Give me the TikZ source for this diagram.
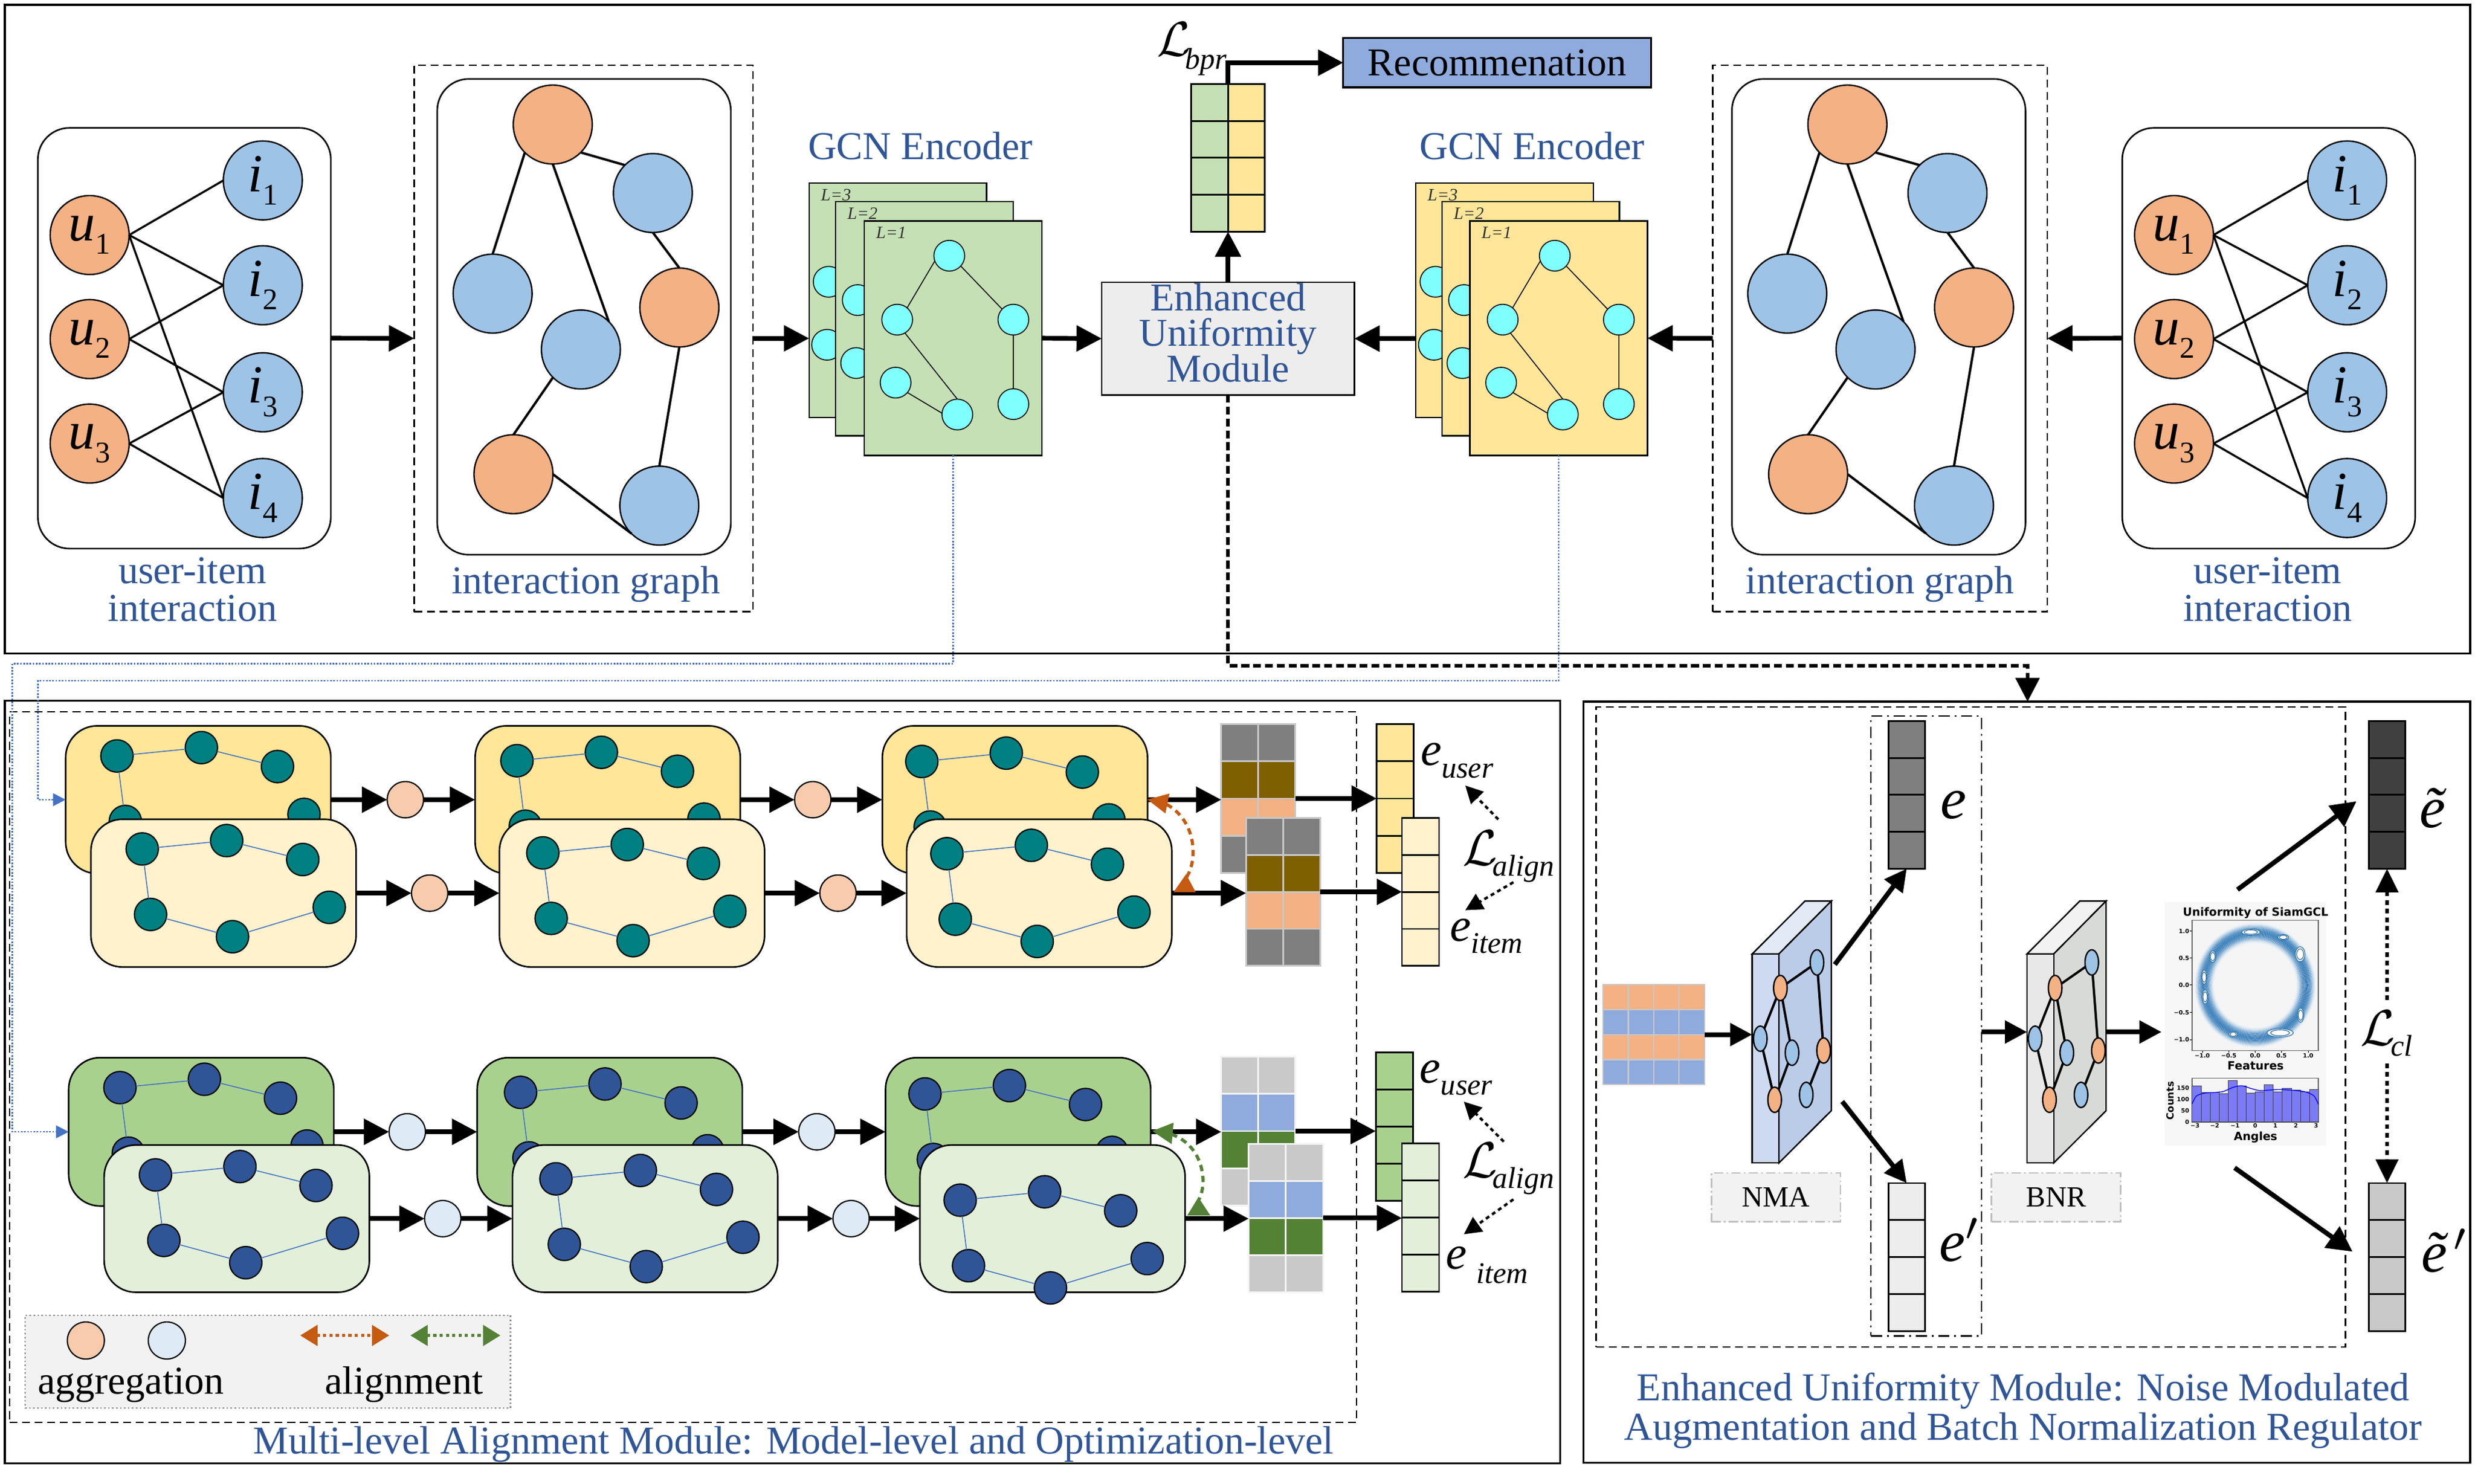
\documentclass[tikz,border=0pt]{standalone}
\usepackage{graphicx}
\usepackage{fontspec}
\setmainfont{Liberation Serif}
\newfontfamily\plotfont{DejaVu Sans}
\usetikzlibrary{arrows.meta,shapes.geometric}

\definecolor{txtblue}{HTML}{2F5597}
\definecolor{uorange}{HTML}{F4B183}
\definecolor{iblue}{HTML}{9DC3E6}
\definecolor{gcngreen}{HTML}{C5E0B4}
\definecolor{gcnyellow}{HTML}{FFE699}
\definecolor{cyannode}{HTML}{80FFFF}
\definecolor{eumgray}{HTML}{EDEDED}
\definecolor{recblue}{HTML}{8FAADC}
\definecolor{ydark}{HTML}{FFE699}
\definecolor{ylight}{HTML}{FFF2CC}
\definecolor{gdark}{HTML}{A9D18E}
\definecolor{glight}{HTML}{E2F0D9}
\definecolor{tealnode}{HTML}{008080}
\definecolor{navynode}{HTML}{2F5597}
\definecolor{edgeblue}{HTML}{4472C4}
\definecolor{aggpeach}{HTML}{F8CBAD}
\definecolor{agglblue}{HTML}{DEEBF7}
\definecolor{cgray}{HTML}{7F7F7F}
\definecolor{colive}{HTML}{7F6000}
\definecolor{cpeach}{HTML}{F4B183}
\definecolor{clgray}{HTML}{C9C9C9}
\definecolor{cblue}{HTML}{8FAADC}
\definecolor{cgreen}{HTML}{548235}
\definecolor{alorange}{HTML}{C55A11}
\definecolor{algreen}{HTML}{538135}
\definecolor{gridgray}{HTML}{C8C8C8}
\definecolor{gridwhite}{HTML}{F4F4F4}
\definecolor{dgray}{HTML}{404040}
\definecolor{nmafront}{HTML}{CDDAF1}
\definecolor{nmaside}{HTML}{BBCCE8}
\definecolor{nmatop}{HTML}{E2EAF6}
\definecolor{bnrfront}{HTML}{E7E8E7}
\definecolor{bnrside}{HTML}{D8DAD8}
\definecolor{bnrtop}{HTML}{F1F2F1}
\definecolor{ringblue}{HTML}{2A75B5}
\definecolor{barblue}{HTML}{7B7BF5}
\definecolor{plotbgc}{HTML}{F7F7F7}

\newcommand\calL[1]{{\fontsize{10}{10}\selectfont\scalebox{#1}{$\mathcal{L}$}}}
\newcommand\bigprime[1]{{\fontsize{10}{10}\selectfont\scalebox{#1}{$'$}}}
\newcommand\usub[2]{\textit{#1}\raisebox{-0.55ex}{\fontsize{19}{19}\selectfont #2}}
\newcommand\elab[3]{{\fontsize{30}{30}\selectfont\textit{e}}#3\raisebox{-#2}{\fontsize{19}{19}\selectfont\textit{#1}}}
\newcommand\Llab[2]{\calL{3.2}\hspace{-3pt}\raisebox{-#2}{\fontsize{19}{19}\selectfont\textit{#1}}}

% user-item bipartite graph
\newcommand\uigraph[3]{%
  \node[uibox, minimum width=185.6pt, minimum height=266.5pt, anchor=north west] (#1box) at (#2,#3) {};
  \begin{scope}[shift={(#2,#3)}]
    \node[unode] (#1u1) at (32.8,67.9) {\usub{u}{1}};
    \node[unode] (#1u2) at (32.8,133.8) {\usub{u}{2}};
    \node[unode] (#1u3) at (32.8,200) {\usub{u}{3}};
    \node[inode] (#1i1) at (142.5,33.3) {\usub{i}{1}};
    \node[inode] (#1i2) at (142.5,99.7) {\usub{i}{2}};
    \node[inode] (#1i3) at (142.5,167.5) {\usub{i}{3}};
    \node[inode] (#1i4) at (142.5,234.5) {\usub{i}{4}};
  \end{scope}
  \draw[uedge] (#1u1.east) -- (#1i1.west) (#1u1.east) -- (#1i2.west) (#1u1.east) -- (#1i4.west)
    (#1u2.east) -- (#1i2.west) (#1u2.east) -- (#1i3.west)
    (#1u3.east) -- (#1i3.west) (#1u3.east) -- (#1i4.west);
}
% interaction graph
\newcommand\igraph[3]{%
  \node[uibox, minimum width=186pt, minimum height=301.4pt, anchor=north west] (#1box) at (#2,#3) {};
  \begin{scope}[shift={(#2,#3)}]
    \node[onode] (#1o1) at (73.2,28.9) {};
    \node[bnodeb] (#1b1) at (136.6,72.3) {};
    \node[bnodeb] (#1b2) at (35.1,136) {};
    \node[onode] (#1o2) at (153.4,144.8) {};
    \node[bnodeb] (#1b3) at (91,171.4) {};
    \node[onode] (#1o3) at (48.3,250.4) {};
    \node[bnodeb] (#1b4) at (140.7,270.3) {};
  \end{scope}
  \draw[gedge] (#1o1.315) -- (#1b1.135) (#1o1.225) -- (#1b2.90) (#1o1.270) -- (#1b3.45)
    (#1b1.270) -- (#1o2.90) (#1o2.270) -- (#1b4.90) (#1b3.225) -- (#1o3.90) (#1o3.0) -- (#1b4.225);
}
% GCN page
\newcommand\gcnpage[6]{%
  \node[pagebox, fill=#4] (#1) at ({#2+56.25},{#3+74.25}) {};
  \node[font=\fontsize{11}{11}\selectfont\itshape, text=black!80] (#1t) at ({#2+17},{#3+7.5}) {L=#5};
  \begin{scope}[shift={({#2+#6},#3)}]
    \node[cnode] (#1a) at (53.8,22) {};
    \node[cnode] (#1b) at (20.8,62.5) {};
    \node[cnode] (#1c) at (94.4,62.5) {};
    \node[cnode] (#1d) at (19.8,102.4) {};
    \node[cnode] (#1e) at (58.9,122.6) {};
    \node[cnode] (#1f) at (94.4,116) {};
  \end{scope}
  \draw[cedge] (#1a.200) -- (#1b.50) (#1a.318) -- (#1c.137) (#1b.300) -- (#1e.90)
    (#1d.320) -- (#1e.175) (#1c.south) -- (#1f.north);
}
% small graph in alignment module
\newcommand\bgraph[4]{%
  \begin{scope}[shift={(#2,#3)}]
    \node[smnode, fill=#4] (#1a) at (32.5,19) {};
    \node[smnode, fill=#4] (#1b) at (86,13.7) {};
    \node[smnode, fill=#4] (#1c) at (134.2,25.7) {};
    \node[smnode, fill=#4] (#1d) at (37.8,60.5) {};
    \node[smnode, fill=#4] (#1e) at (89.7,74.6) {};
    \node[smnode, fill=#4] (#1f) at (151,56) {};
  \end{scope}
  \draw[bedge] (#1a) -- (#1b) (#1b) -- (#1c) (#1a) -- (#1d) (#1d) -- (#1e) (#1e) -- (#1f);
}
\newcommand\twocol[6]{%
  \foreach \cc [count=\rr from 0] in {#6} {%
    \foreach \kk in {0,1} {%
      \filldraw[fill=\cc, draw=#5, line width=1.1pt] ({#1+\kk*#3},{#2+\rr*#4}) rectangle ++(#3,#4);
    }%
  }%
}
\newcommand\onecol[5]{%
  \foreach \rr in {0,1,2,3} {%
    \filldraw[fill=#5, draw=black, line width=1.1pt] (#1,{#2+\rr*#4}) rectangle ++(#3,#4);
  }%
}
\newcommand\slab[5]{%
  \filldraw[fill=#5, draw=black, line width=0.9pt] (#2,604.3) -- ({#2+16.9},604.3) -- ({#2+50.1},570.8) -- ({#2+33.4},570.8) -- cycle;
  \filldraw[fill=#4, draw=black, line width=0.9pt] ({#2+16.9},604.3) -- ({#2+50.1},570.8) -- ({#2+50.1},703.6) -- ({#2+16.9},736.7) -- cycle;
  \filldraw[fill=#3, draw=black, line width=0.9pt] (#2,604.3) rectangle ({#2+16.9},736.7);
  \node[minimum width=50.1pt, minimum height=165.9pt] (#1) at ({#2+25.05},653.75) {};
  \begin{scope}[shift={(#2,0)}]
    \node[snode, fill=uorange] (#1o1) at (17.8,625.9) {};
    \node[snode, fill=iblue] (#1b1) at (41,609.7) {};
    \node[snode, fill=iblue] (#1b2) at (5.1,658) {};
    \node[snode, fill=iblue] (#1b3) at (25.2,666.9) {};
    \node[snode, fill=uorange] (#1o2) at (45.2,665.5) {};
    \node[snode, fill=uorange] (#1o3) at (14.2,696.7) {};
    \node[snode, fill=iblue] (#1b4) at (34.2,693.6) {};
  \end{scope}
  \draw[sedge] (#1o1) -- (#1b1) (#1o1) -- (#1b2) (#1o1) -- (#1b3) (#1b2) -- (#1o3)
    (#1b3) -- (#1o3) (#1b1) -- (#1o2) (#1o2) -- (#1b4);
}

\begin{document}
\begin{tikzpicture}[x=1pt,y=-1pt,
  every node/.style={inner sep=0pt, outer sep=0pt},
  panel/.style={draw=black, line width=1.3pt},
  dashbox/.style={draw=black, line width=0.9pt, dash pattern=on 5pt off 3pt},
  ddbox/.style={draw=black, line width=0.8pt, dash pattern=on 7pt off 3pt on 1.2pt off 3pt},
  uibox/.style={draw=black, line width=1pt, rounded corners=20pt, fill=white},
  unode/.style={circle, draw=black, line width=0.9pt, fill=uorange, minimum size=50pt, font=\fontsize{34}{34}\selectfont},
  inode/.style={unode, fill=iblue},
  onode/.style={circle, draw=black, line width=0.9pt, fill=uorange, minimum size=50pt},
  bnodeb/.style={onode, fill=iblue},
  uedge/.style={line width=1.3pt},
  gedge/.style={line width=1.5pt},
  bigarr/.style={line width=3pt, -{Triangle[length=16pt,width=16pt]}},
  midarr/.style={line width=3pt, -{Triangle[length=14pt,width=14pt]}},
  pagebox/.style={draw=black, line width=0.9pt, minimum width=112.5pt, minimum height=148.5pt},
  cnode/.style={circle, draw=black, line width=0.6pt, fill=cyannode, minimum size=19.5pt},
  cedge/.style={line width=0.6pt},
  smnode/.style={circle, draw=black, line width=0.8pt, minimum size=20.5pt},
  bedge/.style={draw=edgeblue, line width=0.6pt},
  ybox/.style={draw=black, line width=1pt, rounded corners=20pt, minimum width=168pt, minimum height=93.6pt},
  aggc/.style={circle, draw=black, line width=0.8pt, minimum size=23pt},
  snode/.style={ellipse, draw=black, line width=0.9pt, minimum width=8.6pt, minimum height=16pt},
  sedge/.style={line width=1.5pt},
  bluetxt/.style={text=txtblue, font=\fontsize{25}{30}\selectfont},
  blktxt/.style={text=black, font=\fontsize{25}{30}\selectfont},
  bluedot/.style={draw=edgeblue, line width=0.9pt, dash pattern=on 1pt off 1pt, -{Triangle[length=8pt,width=8pt]}},
  maindash/.style={line width=2.2pt, dash pattern=on 5pt off 2.5pt, -{Triangle[length=15pt,width=15pt]}},
  aldot/.style={line width=1.6pt, dash pattern=on 2.5pt off 2.2pt, -{Triangle[length=11pt,width=11pt]}},
  legarr/.style={line width=2pt, dash pattern=on 2pt off 2pt, {Triangle[length=11pt,width=13pt]}-{Triangle[length=11pt,width=13pt]}},
  cldash/.style={line width=2.5pt, dash pattern=on 3pt off 2.5pt, -{Triangle[length=15pt,width=14pt]}},
  lblbox/.style={draw=black!25, line width=1pt, dash pattern=on 6pt off 2pt on 1pt off 2pt, fill=black!5, minimum width=81.8pt, minimum height=31pt, font=\fontsize{18.5}{20}\selectfont},
  tick/.style={font=\plotfont\bfseries\fontsize{3.7}{4}\selectfont},
  plotlbl/.style={font=\plotfont\bfseries\fontsize{7.2}{8}\selectfont},
  bar/.style={fill=barblue, draw=black!75, line width=0.3pt}
]
\useasboundingbox (0,0) rectangle (1568,940.1);
\fill[white] (0,0) rectangle (1568,940.1);

%================ panels
\node[panel, minimum width=1562pt, minimum height=411pt] (tp) at (784,208.5) {};
\node[panel, minimum width=985.5pt, minimum height=483pt] (lp) at (495.75,685.5) {};
\node[panel, minimum width=561.8pt, minimum height=482.2pt] (rp) at (1284.1,685.6) {};

%================ top panel
\uigraph{L}{24}{81}
\uigraph{R}{1344.5}{81}
\node[dashbox, minimum width=214.6pt, minimum height=346.3pt] (ig1) at (369.7,214.35) {};
\node[dashbox, minimum width=211.9pt, minimum height=346.3pt] (ig2) at (1191.05,214.35) {};
\igraph{A}{277}{50}
\igraph{B}{1097.2}{50}

\gcnpage{gL3}{512.6}{116}{gcngreen}{3}{-8.4}
\gcnpage{gL2}{529.4}{127.6}{gcngreen}{2}{-6.8}
\gcnpage{gL1}{547.6}{140}{gcngreen}{1}{0}
\gcnpage{yL3}{897}{116}{gcnyellow}{3}{-8.4}
\gcnpage{yL2}{913.5}{127.6}{gcnyellow}{2}{-6.8}
\gcnpage{yL1}{931.2}{140}{gcnyellow}{1}{0}

\node[bluetxt, anchor=base] (tL1) at (122,369.5) {user-item};
\node[bluetxt, anchor=base] (tL2) at (122,393.4) {interaction};
\node[bluetxt, anchor=base] (tA) at (371.2,376) {interaction graph};
\node[bluetxt, anchor=base] (tG1) at (583.1,101) {GCN Encoder};
\node[bluetxt, anchor=base] (tG2) at (970.6,101) {GCN Encoder};
\node[bluetxt, anchor=base] (tB) at (1191.1,376) {interaction graph};
\node[bluetxt, anchor=base] (tR1) at (1436.6,369.5) {user-item};
\node[bluetxt, anchor=base] (tR2) at (1436.6,393.4) {interaction};

\node[draw=black, line width=1pt, fill=eumgray, minimum width=160pt, minimum height=71.4pt] (eum) at (778,214.5) {};
\node[bluetxt, anchor=base] (eum1) at (778,196.7) {Enhanced};
\node[bluetxt, anchor=base] (eum2) at (778,219.3) {Uniformity};
\node[bluetxt, anchor=base] (eum3) at (778,241.9) {Module};

\onecol{754.6}{53.2}{23.4}{23.375}{gcngreen}
\onecol{778}{53.2}{23.4}{23.375}{gcnyellow}
\node[minimum width=46.8pt, minimum height=93.5pt] (tv) at (778,99.95) {};
\node[draw=black, line width=1.2pt, fill=recblue, minimum width=195pt, minimum height=31.3pt, font=\fontsize{25}{30}\selectfont] (rec) at (948.5,39.7) {Recommenation};
\node[anchor=base west] (lbpr) at (733,35.5) {\calL{3.1}\hspace{-3.5pt}\raisebox{-8.4pt}{\fontsize{19}{19}\selectfont\textit{bpr}}};

\draw[bigarr] (Lbox.east) -- (ig1.west);
\draw[bigarr] (ig1.east) -- (ig1.east -| gL3.west);
\draw[bigarr] (gL1.east) -- (eum.west);
\draw[bigarr] (eum.east -| yL3.west) -- (eum.east);
\draw[bigarr] (ig2.west) -- (yL1.east);
\draw[bigarr] (Rbox.west) -- (ig2.east);
\draw[bigarr] (eum.north) -- (tv.south);
\draw[bigarr] (tv.north) |- (rec.west);

%================ connectors between panels
\coordinate (gturn) at (7.8,420.4);
\coordinate (yturn) at (24.1,431.2);
\coordinate (dturn) at (1284.5,421.8);

%================ bottom-left panel
\node[dashbox, minimum width=853.5pt, minimum height=450pt] (ldash) at (432.75,676) {};

% yellow rows
\node[ybox, fill=ydark] (yb1) at (125.6,506.6) {};
\bgraph{yg1}{41.6}{459.9}{tealnode}
\node[ybox, fill=ydark] (yb2) at (385,506.6) {};
\bgraph{yg2}{295}{462.9}{tealnode}
\node[ybox, fill=ydark] (yb3) at (643,506.6) {};
\bgraph{yg3}{551.5}{463.4}{tealnode}
\node[ybox, fill=ylight] (yf1) at (141.6,565.8) {};
\bgraph{yh1}{57.6}{518.8}{tealnode}
\node[ybox, fill=ylight] (yf2) at (400.4,565.8) {};
\bgraph{yh2}{311.4}{521.3}{tealnode}
\node[ybox, fill=ylight] (yf3) at (658.4,565.8) {};
\bgraph{yh3}{567.4}{521.8}{tealnode}

\node[aggc, fill=aggpeach] (ya1) at (256.8,506.6) {};
\node[aggc, fill=aggpeach] (ya2) at (514.9,506.6) {};
\node[aggc, fill=aggpeach] (ya3) at (272.2,565.8) {};
\node[aggc, fill=aggpeach] (ya4) at (530.9,565.8) {};
\draw[bigarr] (yb1.east) -- (ya1.west);
\draw[bigarr] (ya1.east) -- (yb2.west);
\draw[bigarr] (yb2.east) -- (ya2.west);
\draw[bigarr] (ya2.east) -- (yb3.west);
\draw[bigarr] (yf1.east) -- (ya3.west);
\draw[bigarr] (ya3.east) -- (yf2.west);
\draw[bigarr] (yf2.east) -- (ya4.west);
\draw[bigarr] (ya4.east) -- (yf3.west);

\twocol{773.7}{458.8}{23.5}{23.525}{gridgray}{cgray,colive,cpeach,cgray}
\node[minimum width=47pt, minimum height=94.1pt] (yv1) at (797.2,505.85) {};
\twocol{789.4}{518.1}{23.5}{23.45}{gridgray}{cgray,colive,cpeach,cgray}
\node[minimum width=47pt, minimum height=93.8pt] (yv2) at (812.9,565) {};
\onecol{872.2}{458.8}{23.5}{23.525}{ydark}
\node[minimum width=23.5pt, minimum height=94.1pt] (yeu) at (883.95,505.85) {};
\onecol{888.2}{518.1}{23.5}{23.45}{ylight}
\node[minimum width=23.5pt, minimum height=93.8pt] (yei) at (899.95,565) {};

\draw[bigarr] (yb3.east) -- (yb3.east -| yv1.west);
\draw[bigarr] (yf3.east) -- (yf3.east -| yv2.west);
\draw[bigarr] (yv1.east) -- (yeu.west);
\draw[bigarr] (yv2.east) -- (yei.west);

\node[anchor=base west] (yeul) at (900,485) {\elab{user}{7.6pt}{}};
\node[anchor=base west] (yal) at (926.6,548.1) {\Llab{align}{7pt}};
\node[anchor=base west] (yeil) at (918.7,596.1) {\elab{item}{7.6pt}{}};
\coordinate (yal1) at (949.2,519.1); \coordinate (yal1e) at (928.3,497.6);
\coordinate (yal2) at (958.8,558.9); \coordinate (yal2e) at (928.3,576.6);
\draw[aldot] (yal1) -- (yal1e);
\draw[aldot] (yal2) -- (yal2e);

% orange alignment arrow
\fill[alorange] (727,506.5) -- (740.9,502.7) -- (738.3,515.3) -- cycle;
\draw[alorange, line width=2pt, dash pattern=on 4pt off 3pt] (739,509.5) .. controls (758,520) and (759,545) .. (751.5,556);
\fill[alorange] (743.5,565.2) -- (757.5,565.2) -- (751.4,553.8) -- cycle;

% green rows
\node[ybox, fill=gdark, minimum height=94pt] (gb1) at (127.5,717) {};
\bgraph{gg1}{43.5}{670}{navynode}
\node[ybox, fill=gdark, minimum height=94pt] (gb2) at (386.3,717) {};
\bgraph{gg2}{297.3}{673}{navynode}
\node[ybox, fill=gdark, minimum height=94pt] (gb3) at (645,717) {};
\bgraph{gg3}{553.5}{674}{navynode}
\node[ybox, fill=glight, minimum height=93.3pt] (gf1) at (150,772) {};
\bgraph{gh1}{66}{725.3}{navynode}
\node[ybox, fill=glight, minimum height=93.3pt] (gf2) at (408.7,772) {};
\bgraph{gh2}{319.7}{727.8}{navynode}
\node[ybox, fill=glight, minimum height=93.3pt] (gf3) at (666.8,772) {};
\bgraph{gh3}{575.8}{741.3}{navynode}

\node[aggc, fill=agglblue] (ga1) at (258,717) {};
\node[aggc, fill=agglblue] (ga2) at (517.5,717) {};
\node[aggc, fill=agglblue] (ga3) at (280.5,772) {};
\node[aggc, fill=agglblue] (ga4) at (539.2,772) {};
\draw[bigarr] (gb1.east) -- (ga1.west);
\draw[bigarr] (ga1.east) -- (gb2.west);
\draw[bigarr] (gb2.east) -- (ga2.west);
\draw[bigarr] (ga2.east) -- (gb3.west);
\draw[bigarr] (gf1.east) -- (ga3.west);
\draw[bigarr] (ga3.east) -- (gf2.west);
\draw[bigarr] (gf2.east) -- (ga4.west);
\draw[bigarr] (ga4.east) -- (gf3.west);

\twocol{773.7}{669.5}{23.5}{23.525}{gridwhite}{clgray,cblue,cgreen,clgray}
\node[minimum width=47pt, minimum height=94.1pt] (gv1) at (797.2,716.55) {};
\twocol{791.1}{724.8}{23.55}{23.425}{gridwhite}{clgray,cblue,cgreen,clgray}
\node[minimum width=47.1pt, minimum height=93.7pt] (gv2) at (814.65,771.65) {};
\onecol{871.6}{666.6}{23.6}{23.525}{gdark}
\node[minimum width=23.6pt, minimum height=94.1pt] (geu) at (883.4,713.65) {};
\onecol{888.2}{724.2}{23.5}{23.525}{glight}
\node[minimum width=23.5pt, minimum height=94.1pt] (gei) at (899.95,771.25) {};

\draw[bigarr] (gb3.east) -- (gb3.east -| gv1.west);
\draw[bigarr] (gf3.east) -- (gf3.east -| gv2.west);
\draw[bigarr] (gv1.east) -- (gv1.east -| geu.west);
\draw[bigarr] (gv2.east) -- (gv2.east -| gei.west);

\node[anchor=base west] (geul) at (899.5,685.9) {\elab{user}{7.6pt}{}};
\node[anchor=base west] (gal) at (926.6,745.9) {\Llab{align}{7pt}};
\node[anchor=base west] (geil) at (916.1,804) {\elab{item}{8.8pt}{\hspace{6pt}}};
\coordinate (gal1) at (952.7,723.2); \coordinate (gal1e) at (927.4,697.9);
\coordinate (gal2) at (958.8,759.8); \coordinate (gal2e) at (927.4,781.9);
\draw[aldot] (gal1) -- (gal1e);
\draw[aldot] (gal2) -- (gal2e);

% green alignment arrow
\fill[algreen] (730,716.5) -- (743.5,711.2) -- (742.3,724.8) -- cycle;
\draw[algreen, line width=2pt, dash pattern=on 4pt off 3pt] (742,718.5) .. controls (763,726) and (765,750) .. (759.5,760);
\fill[algreen] (752.2,769.9) -- (766.7,769.9) -- (759.2,758.5) -- cycle;

% legend
\node[draw=black!45, line width=0.8pt, dash pattern=on 1pt off 1.5pt, fill=black!5, minimum width=307.4pt, minimum height=58.9pt] (leg) at (169.7,862.55) {};
\node[aggc, fill=aggpeach, minimum size=23.5pt] (legc1) at (54.4,849.2) {};
\node[aggc, fill=agglblue, minimum size=23.5pt] (legc2) at (105.7,849.2) {};
\coordinate (lo1) at (190.2,846); \coordinate (lo2) at (246.6,846);
\coordinate (lg1) at (260,846); \coordinate (lg2) at (317,846);
\draw[legarr, alorange] (lo1) -- (lo2);
\draw[legarr, algreen] (lg1) -- (lg2);
\node[blktxt, anchor=base] (legt1) at (83,883) {aggregation};
\node[blktxt, anchor=base] (legt2) at (256,883) {alignment};

\node[bluetxt, anchor=base] (capL) at (502.7,921) {Multi-level Alignment Module: Model-level and Optimization-level};

% blue dotted feeds
\draw[bluedot] (gL1.south) |- (gturn) |- (gb1.west);
\draw[bluedot] (yL1.south) |- (yturn) |- (yb1.west);
% main dashed feed
\draw[maindash] (eum.south) |- (dturn) -- (dturn |- rp.north);

%================ bottom-right panel
\node[dashbox, minimum width=474.8pt, minimum height=405.5pt] (rdash) at (1248.6,650.55) {};
\node[ddbox, minimum width=69.9pt, minimum height=392.8pt] (ddr) at (1220.35,649.9) {};

\foreach \cc [count=\rr from 0] in {uorange,cblue,uorange,cblue} {
  \foreach \kk in {0,1,2,3} {
    \filldraw[fill=\cc, draw=gridgray, line width=0.8pt] ({1015.5+\kk*16.1},{623.7+\rr*15.85}) rectangle ++(16.1,15.85);
  }
}
\node[minimum width=64.4pt, minimum height=63.4pt] (inmat) at (1047.7,655.4) {};

\slab{nma}{1110.1}{nmafront}{nmaside}{nmatop}
\slab{bnr}{1284.2}{bnrfront}{bnrside}{bnrtop}
\node[lblbox] (nmal) at (1125.1,758.5) {NMA};
\node[lblbox] (bnrl) at (1302.6,758.5) {BNR};

\onecol{1196.3}{456.8}{23.3}{23.375}{cgray}
\node[minimum width=23.3pt, minimum height=93.5pt] (ev) at (1207.95,503.55) {};
\onecol{1196.3}{749.5}{23.3}{23.45}{eumgray}
\node[minimum width=23.3pt, minimum height=93.8pt] (ev2) at (1207.95,796.4) {};
\onecol{1500.6}{456.8}{23.3}{23.375}{dgray}
\node[minimum width=23.3pt, minimum height=93.5pt] (etv) at (1512.25,503.55) {};
\onecol{1500.6}{749.5}{23.3}{23.45}{clgray}
\node[minimum width=23.3pt, minimum height=93.8pt] (etv2) at (1512.25,796.4) {};

\node[anchor=base west, font=\fontsize{37}{37}\selectfont] (el) at (1229.5,518.6) {\textit{e}};
\node[anchor=base west, font=\fontsize{37}{37}\selectfont] (epl) at (1228.5,798.9) {\textit{e}\bigprime{3.6}};
\node[anchor=base west, font=\fontsize{37}{37}\selectfont] (etl) at (1533,524.3) {\textit{\~{e}}};
\node[anchor=base west, font=\fontsize{37}{37}\selectfont] (etpl) at (1534,805.6) {\textit{\~{e}}\hspace{3pt}\bigprime{3.6}};
\node[anchor=base west] (lcl) at (1495.5,662) {\Llab{cl}{6.8pt}};

% uniformity plot
\node[fill=plotbgc, minimum width=102.2pt, minimum height=154.1pt] (uplot) at (1422.5,648.55) {};
\node[plotlbl] (ptitle) at (1429,578.3) {Uniformity of SiamGCL};
\filldraw[fill=white!96!black, draw=black!60, line width=0.6pt] (1388.7,582.9) rectangle (1468.8,665.6);
\foreach \r/\c in {0.78/8,0.80/15,0.82/25,0.84/40,0.86/55,0.88/70,0.90/80,0.92/90,0.94/95,0.96/100,0.98/100,1.00/95,1.02/90,1.04/80,1.06/65,1.08/50,1.10/35,1.12/20,1.14/10} {
  \draw[draw=ringblue!\c!white, line width=0.55pt] (1428.7,624.2) ellipse [x radius={\r*33.5pt}, y radius={\r*34.4pt}];
}
\foreach \px/\py/\rx/\ry in {1426/590.5/4.2/1.4, 1444.5/654.3/6/1.9, 1414.8/655.2/2/1.4, 1396.4/619/1.3/3.2, 1397/631.5/1.4/3.2, 1457.2/604.5/2.2/3.4, 1401.8/606/1.5/2.6, 1457.5/643.1/1.5/3.2, 1446.5/593.8/2.5/1.3} {
  \filldraw[fill=white, draw=ringblue, line width=0.45pt] (\px,\py) ellipse [x radius={\rx*1.4pt}, y radius={\ry*1.4pt}];
  \draw[draw=ringblue!80!black, line width=0.4pt] (\px,\py) ellipse [x radius=\rx pt, y radius=\ry pt];
}
\foreach \v/\yy in {1.0/589.9, 0.5/606.9, 0.0/624, −0.5/641.4, −1.0/658.7} {
  \draw[line width=0.3pt] (1387.4,\yy) -- (1388.7,\yy);
  \node[tick, anchor=east] at (1386.9,\yy) {\v};
}
\foreach \v/\xx in {−1.0/1395.2, −0.5/1412, 0.0/1428.7, 0.5/1445.4, 1.0/1462.3} {
  \draw[line width=0.3pt] (\xx,665.6) -- (\xx,666.9);
  \node[tick, anchor=north] at (\xx,667.5) {\v};
}
\node[plotlbl] (pfeat) at (1429,675.1) {Features};
\filldraw[fill=white!96!black, draw=black!60, line width=0.6pt] (1388.7,683) rectangle (1468.8,710.8);
\foreach \h [count=\k from 0] in {158,131,131,124,184,158,128,133,165,133,149,140,134,143} {
  \filldraw[bar] ({1388.7+\k*5.721},710.8) rectangle ++(5.721,{-\h*0.144});
}
\draw[blue, line width=0.5pt] plot[smooth] coordinates {(1388.7,699.3) (1391.6,694.2) (1397.3,692.4) (1403,692.1) (1408.7,691.4) (1414.5,688.9) (1420.2,687.8) (1425.9,689.5) (1431.6,690.9) (1437.3,690.6) (1443,690.2) (1448.8,690.4) (1454.5,690.9) (1460.2,691.6) (1465.9,694.2) (1468.8,699.6)};
\foreach \v/\yy in {150/689.2, 100/696.6, 50/703.6, 0/710.8} {
  \node[tick, anchor=east] at (1386.9,\yy) {\v};
}
\foreach \v/\xx in {−3/1390.6, −2/1403.1, −1/1416, 0/1428.7, 1/1441.5, 2/1454.5, 3/1467.3} {
  \node[tick, anchor=north] at (\xx,711.8) {\v};
}
\node[plotlbl, rotate=90, font=\plotfont\bfseries\fontsize{6.2}{7}\selectfont] (pcount) at (1375,697.2) {Counts};
\node[plotlbl] (pang) at (1429,720.6) {Angles};

% right panel arrows
\coordinate (nmaU) at (1162.4,611);
\coordinate (nmaD) at (1167.1,697.8);
\coordinate (plU) at (1417.5,563.6); \coordinate (plUe) at (1492.9,507.6);
\coordinate (plD) at (1415.7,739.8); \coordinate (plDe) at (1490.4,792.9);
\coordinate (cl1) at (1512.25,633.7); \coordinate (cl2) at (1512.25,673.7);
\draw[midarr] (inmat.east) -- (inmat.east -| nma.west);
\draw[midarr] (nmaU) -- (ev.south);
\draw[midarr] (nmaD) -- (ev2.north);
\draw[midarr] (ddr.east |- bnr.west) -- (bnr.west);
\draw[midarr, shorten >=2pt] (bnr.east) -- (bnr.east -| uplot.west);
\draw[bigarr] (plU) -- (plUe);
\draw[bigarr] (plD) -- (plDe);
\draw[cldash] (cl1) -- (etv.south);
\draw[cldash] (cl2) -- (etv2.north);

\node[bluetxt, anchor=base] (capR1) at (1281.8,887.3) {Enhanced Uniformity Module: Noise Modulated};
\node[bluetxt, anchor=base] (capR2) at (1281.8,912.4) {Augmentation and Batch Normalization Regulator};

\end{tikzpicture}
\end{document}
